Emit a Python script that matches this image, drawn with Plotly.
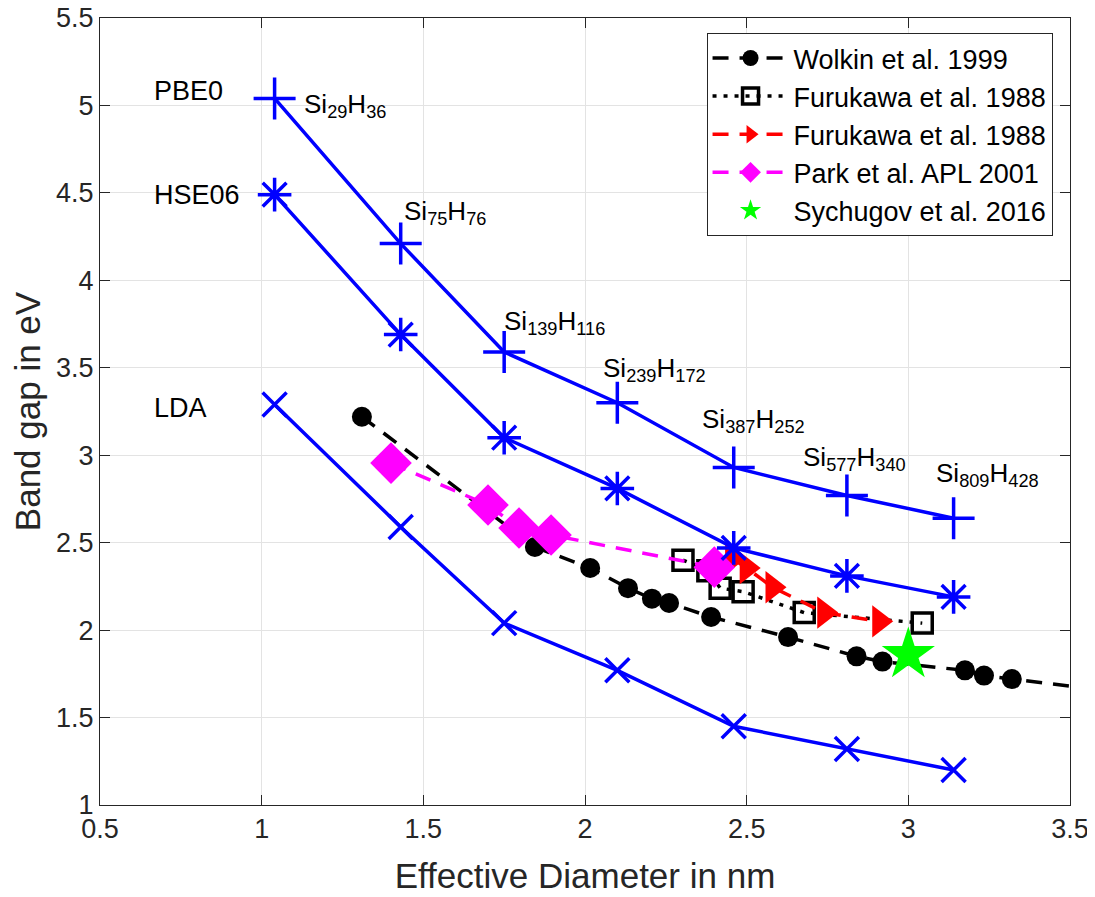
import plotly.graph_objects as go

# ---------------- data ----------------
diam_dft = [1.04, 1.43, 1.75, 2.10, 2.46, 2.81, 3.14]
gap_pbe0 = [5.04, 4.21, 3.59, 3.30, 2.93, 2.77, 2.64]
gap_hse06 = [4.49, 3.69, 3.10, 2.81, 2.47, 2.31, 2.19]
gap_lda = [3.29, 2.59, 2.04, 1.77, 1.45, 1.32, 1.20]
clusters = ["Si<sub>29</sub>H<sub>36</sub>", "Si<sub>75</sub>H<sub>76</sub>",
            "Si<sub>139</sub>H<sub>116</sub>", "Si<sub>239</sub>H<sub>172</sub>",
            "Si<sub>387</sub>H<sub>252</sub>", "Si<sub>577</sub>H<sub>340</sub>",
            "Si<sub>809</sub>H<sub>428</sub>"]
cluster_label_x = [1.125, 1.434, 1.743, 2.05, 2.356, 2.668, 3.08]
cluster_label_y = [5.00, 4.39, 3.76, 3.49, 3.20, 2.98, 2.89]

method_names = ["PBE0", "HSE06", "LDA"]
method_label_y = [5.08, 4.49, 3.27]
method_label_x = 0.66

wolkin_d = [1.31, 1.845, 2.016, 2.133, 2.207, 2.26, 2.39, 2.628, 2.84, 2.92,
            3.175, 3.234, 3.32, 3.75]
wolkin_gap = [3.22, 2.475, 2.355, 2.24, 2.18, 2.155, 2.075, 1.96, 1.85, 1.82,
              1.77, 1.74, 1.72, 1.625]

furu_sq_d = [2.303, 2.38, 2.418, 2.489, 2.678, 3.043]
furu_sq_gap = [2.40, 2.34, 2.24, 2.22, 2.10, 2.04]

furu_tri_d = [2.455, 2.50, 2.58, 2.74, 2.91]
furu_tri_gap = [2.41, 2.355, 2.245, 2.10, 2.05]

park_d = [1.40, 1.70, 1.796, 1.895, 2.40]
park_gap = [2.955, 2.715, 2.584, 2.544, 2.36]

sych_d = [3.0]
sych_gap = [1.86]

FONT = "Liberation Sans, Arial, sans-serif"
AX = "#262626"

fig = go.Figure()

fig.add_trace(go.Scatter(
    x=wolkin_d, y=wolkin_gap, name="Wolkin et al. 1999", mode="lines+markers",
    line=dict(color="black", width=3.5, dash="16px,11px"),
    marker=dict(symbol="circle", size=20, color="black")))
fig.add_trace(go.Scatter(
    x=furu_sq_d, y=furu_sq_gap, name="Furukawa et al. 1988", mode="lines+markers",
    line=dict(color="black", width=3.5, dash="4px,7px"),
    marker=dict(symbol="square-open", size=20, color="black", line=dict(width=3.5, color="black"))))
fig.add_trace(go.Scatter(
    x=furu_tri_d, y=furu_tri_gap, name="Furukawa et al. 1988", mode="lines+markers",
    line=dict(color="#ff0000", width=3.5, dash="16px,11px"),
    marker=dict(symbol="triangle-right", size=28, color="#ff0000")))
fig.add_trace(go.Scatter(
    x=park_d, y=park_gap, name="Park et al. APL 2001", mode="lines+markers",
    line=dict(color="#ff00ff", width=3.5, dash="16px,11px"),
    marker=dict(symbol="diamond", size=32, color="#ff00ff")))
fig.add_trace(go.Scatter(
    x=sych_d, y=sych_gap, name="Sychugov et al. 2016", mode="markers",
    marker=dict(symbol="star", size=40, color="#00ff00")))

for gaps, sym, sz in [(gap_pbe0, "cross-thin-open", 30),
                      (gap_hse06, "asterisk-open", 28),
                      (gap_lda, "x-thin-open", 24)]:
    fig.add_trace(go.Scatter(
        x=diam_dft, y=gaps, mode="lines+markers", showlegend=False,
        line=dict(color="#0000ff", width=3.5),
        marker=dict(symbol=sym, size=sz, color="#0000ff",
                    line=dict(width=3.5, color="#0000ff"))))

for name, yy in zip(method_names, method_label_y):
    fig.add_annotation(x=method_label_x, y=yy, text=name, showarrow=False,
                       xanchor="left", yanchor="middle",
                       font=dict(family=FONT, size=27, color="black"))
for lab, xx, yy in zip(clusters, cluster_label_x, cluster_label_y):
    fig.add_annotation(x=xx, y=yy, text=lab, showarrow=False,
                       xanchor="left", yanchor="middle",
                       font=dict(family=FONT, size=26, color="black"))

axis_common = dict(showline=True, linecolor=AX, linewidth=1, mirror="ticks",
                   ticks="inside", ticklen=10, tickcolor=AX, tickwidth=1,
                   showgrid=True, gridcolor="#e3e3e3", gridwidth=1,
                   zeroline=False, automargin=False, ticklabeloverflow="allow",
                   tickfont=dict(family=FONT, size=27, color=AX))

fig.update_xaxes(range=[0.5, 3.5], dtick=0.5, tick0=0.5,
                 title=dict(text="Effective Diameter in nm", standoff=20,
                            font=dict(family=FONT, size=35, color=AX)),
                 **axis_common)
fig.update_yaxes(range=[1, 5.5], dtick=0.5, tick0=1,
                 title=dict(text="Band gap in eV", standoff=6,
                            font=dict(family=FONT, size=35, color=AX)),
                 **axis_common)

fig.update_layout(
    width=1087, height=889,
    margin=dict(l=92, r=25, t=10, b=92),
    paper_bgcolor="white", plot_bgcolor="white",
    font=dict(family=FONT, color=AX),
    legend=dict(x=0.982, y=0.981, xanchor="right", yanchor="top",
                bgcolor="white", bordercolor=AX, borderwidth=1,
                font=dict(family=FONT, size=27, color="black"),
                itemwidth=76, tracegroupgap=0),
)

fig.write_html("out.html")
